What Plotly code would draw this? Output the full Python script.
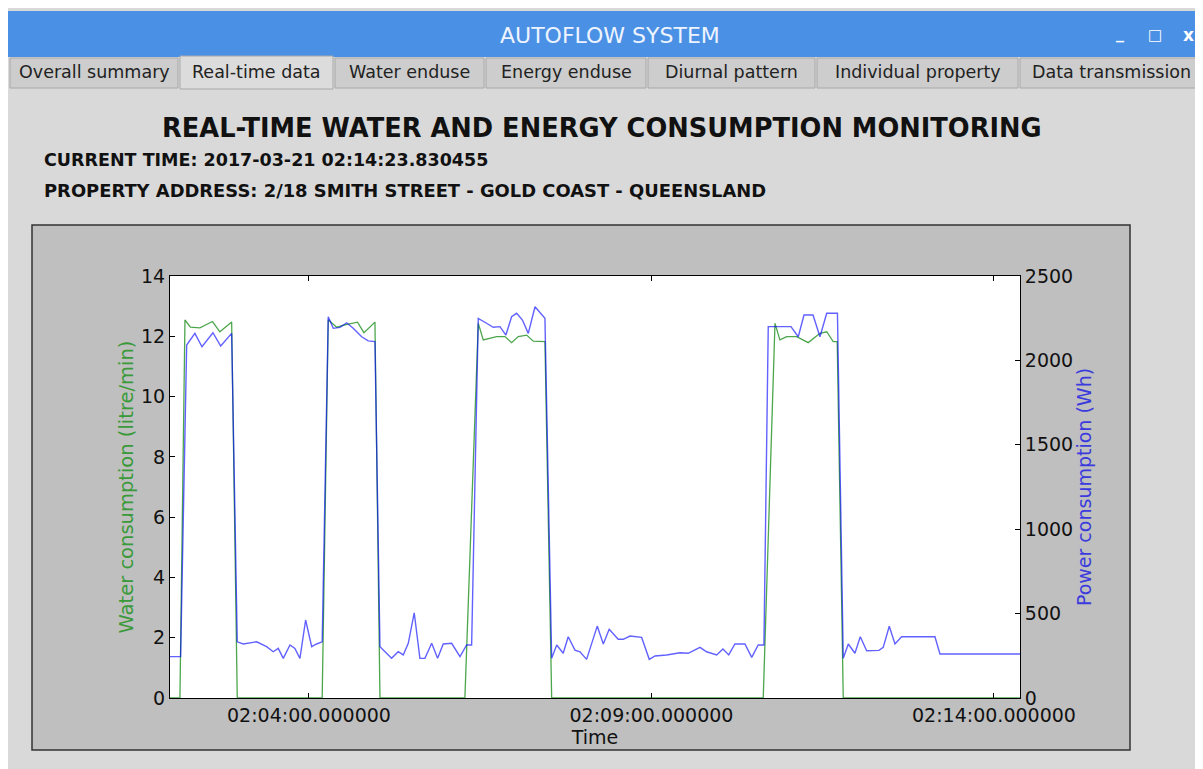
import plotly.graph_objects as go

DATE = "2017-03-21 "

# ---- data ----
power_time = [
    "02:01:58.3", "02:02:07.6", "02:02:12.9", "02:02:20.1", "02:02:26.3", "02:02:35.9", "02:02:42.7", "02:02:52.3",
    "02:02:57.2", "02:03:02.5", "02:03:14.2", "02:03:22.9", "02:03:28.7", "02:03:33.1", "02:03:37.5", "02:03:43.4",
    "02:03:47.7", "02:03:52.1", "02:03:57.1", "02:04:02.4", "02:04:06.7", "02:04:11.6", "02:04:16.9", "02:04:21.3",
    "02:04:27.2", "02:04:33.0", "02:04:38.8", "02:04:46.2", "02:04:51.9", "02:04:57.8", "02:05:02.2", "02:05:12.4",
    "02:05:18.2", "02:05:22.6", "02:05:27.0", "02:05:32.2", "02:05:37.2", "02:05:41.6", "02:05:47.5", "02:05:52.7",
    "02:05:57.6", "02:06:05.0", "02:06:12.3", "02:06:18.1", "02:06:22.5", "02:06:28.3", "02:06:35.6", "02:06:41.4",
    "02:06:47.3", "02:06:52.5", "02:06:57.5", "02:07:01.9", "02:07:07.0", "02:07:12.1", "02:07:18.0", "02:07:26.7",
    "02:07:32.6", "02:07:37.0", "02:07:42.7", "02:07:47.1", "02:07:53.0", "02:07:57.4", "02:08:03.2", "02:08:12.5",
    "02:08:17.8", "02:08:23.0", "02:08:30.9", "02:08:35.3", "02:08:41.2", "02:08:51.4", "02:08:58.1", "02:09:03.1",
    "02:09:13.3", "02:09:25.0", "02:09:32.2", "02:09:42.5", "02:09:48.3", "02:09:57.1", "02:10:02.6", "02:10:07.7",
    "02:10:13.1", "02:10:21.9", "02:10:27.8", "02:10:33.5", "02:10:38.5", "02:10:42.3", "02:11:02.2", "02:11:08.6",
    "02:11:13.6", "02:11:21.5", "02:11:27.6", "02:11:33.5", "02:11:42.9", "02:11:48.0", "02:11:52.4", "02:11:58.2",
    "02:12:02.9", "02:12:08.5", "02:12:19.3", "02:12:23.0", "02:12:28.3", "02:12:33.3", "02:12:39.1", "02:13:08.3",
    "02:13:12.7", "02:14:22.8",
]
power_wh = [
    245, 245, 2091, 2160, 2081, 2164, 2085, 2160,
    333, 320, 333, 304, 274, 294, 235, 314,
    294, 235, 462, 304, 320, 333, 2259, 2190,
    2196, 2223, 2190, 2140, 2116, 2111, 304, 235,
    274, 255, 324, 505, 235, 235, 324, 235,
    320, 324, 245, 314, 314, 2249, 2220, 2196,
    2200, 2150, 2259, 2279, 2239, 2160, 2318, 2249,
    235, 314, 265, 363, 284, 274, 229, 426,
    320, 407, 348, 348, 367, 359, 229, 249,
    255, 268, 265, 300, 274, 255, 290, 255,
    320, 320, 241, 314, 314, 2200, 2200, 2140,
    2269, 2269, 2140, 2279, 2279, 235, 320, 265,
    363, 280, 282, 300, 425, 320, 363, 363,
    261, 261,
]
water_time = [
    "02:01:58.3", "02:02:07.0", "02:02:11.4", "02:02:16.2", "02:02:24.5", "02:02:29.8", "02:02:35.5", "02:02:42.0",
    "02:02:52.3", "02:02:57.2", "02:04:11.6", "02:04:16.9", "02:04:24.3", "02:04:31.5", "02:04:42.5", "02:04:48.2",
    "02:04:57.8", "02:05:02.2", "02:06:16.6", "02:06:28.3", "02:06:32.7", "02:06:44.4", "02:06:51.7", "02:06:57.5",
    "02:07:03.3", "02:07:10.7", "02:07:16.5", "02:07:26.7", "02:07:32.6", "02:10:37.9", "02:10:48.2", "02:10:52.5",
    "02:10:58.4", "02:11:07.2", "02:11:17.3", "02:11:27.6", "02:11:33.5", "02:11:39.2", "02:11:42.7", "02:11:48.0",
    "02:14:22.8",
]
water_lpm = [
    0, 0, 12.54, 12.30, 12.28, 12.38, 12.49, 12.15,
    12.47, 0, 0, 12.55, 12.30, 12.38, 12.47, 12.12,
    12.47, 0, 0, 12.43, 11.88, 11.99, 11.99, 11.79,
    11.99, 12.04, 11.84, 11.82, 0, 0, 12.43, 11.88,
    11.99, 11.99, 11.79, 12.10, 12.15, 11.82, 11.82, 0,
    0,
]
assert len(power_time) == len(power_wh)
assert len(water_time) == len(water_lpm)

x_tick_times = ["02:04:00", "02:09:00", "02:14:00"]
x_tick_labels = ["02:04:00.000000", "02:09:00.000000", "02:14:00.000000"]
water_ticks = [0, 2, 4, 6, 8, 10, 12, 14]
power_ticks = [0, 500, 1000, 1500, 2000, 2500]

tab_labels = ["Overall summary", "Real-time data", "Water enduse", "Energy enduse",
              "Diurnal pattern", "Individual property", "Data transmission"]
active_tab = "Real-time data"

window_title = "AUTOFLOW SYSTEM"
page_title = "REAL-TIME WATER AND ENERGY CONSUMPTION MONITORING"
current_time_text = "CURRENT TIME: 2017-03-21 02:14:23.830455"
address_text = "PROPERTY ADDRESS: 2/18 SMITH STREET - GOLD COAST - QUEENSLAND"

# ---- layout geometry (page pixels; the page body has an 8px margin) ----
OFF = 8
W, H = 1203 - OFF, 769 - OFF
PL, PR, PT, PB = 170, 1020, 276, 698   # plot area on the page


def PX(x):
    return (x - PL) / (PR - PL)


def PY(y):
    return (PB - y) / (PB - PT)


FONT = "DejaVu Sans"
GREEN = "rgba(0,128,0,0.7)"
BLUE = "rgba(0,0,255,0.62)"

fig = go.Figure()
fig.add_trace(go.Scatter(
    x=[DATE + t for t in water_time], y=water_lpm, mode="lines",
    line=dict(color=GREEN, width=1.3), yaxis="y", showlegend=False,
))
fig.add_trace(go.Scatter(
    x=[DATE + t for t in power_time], y=power_wh, mode="lines",
    line=dict(color=BLUE, width=1.4), yaxis="y2", showlegend=False,
))

shapes = []


def rect(x0, y0, x1, y1, fill, line=None, lw=0):
    shapes.append(dict(type="rect", xref="paper", yref="paper",
                       x0=PX(x0), x1=PX(x1), y0=PY(y1), y1=PY(y0),
                       fillcolor=fill, line=dict(color=line or fill, width=lw),
                       layer="below"))


# title bar
rect(OFF, 11, 1210, 57, "#4a90e4")
# tabs
tab_edges = [10, 180, 335, 486, 648, 817, 1020, 1215]
for i, lab in enumerate(tab_labels):
    x0, x1 = tab_edges[i], tab_edges[i + 1] - 2
    if lab == active_tab:
        rect(x0, 56, x1, 89, "#dcdcdc", "#a8a8a8", 1)
    else:
        rect(x0, 58, x1, 88, "#cdcdcd", "#a8a8a8", 1)
# figure canvas box
rect(32, 225, 1130, 750, "#bfbfbf", "#333333", 1.5)
# plot area
rect(PL, PT, PR, PB, "#ffffff")

annotations = []


def text(x, y, s, size, color="#111111", bold=False, anchor="left", family=FONT):
    annotations.append(dict(
        xref="paper", yref="paper", x=PX(x), y=PY(y), text=("<b>%s</b>" % s) if bold else s,
        showarrow=False, xanchor=anchor, yanchor="middle",
        font=dict(family=family, size=size, color=color)))


text(610, 35, window_title, 22, color="#eef4ff", anchor="center")
text(1120, 33, "<b>_</b>", 16, color="#ffffff", anchor="center")
text(1155, 35, "□", 15, color="#ffffff", anchor="center")
text(1188, 35, "<b>x</b>", 17, color="#ffffff", anchor="center")
for i, lab in enumerate(tab_labels):
    text((tab_edges[i] + min(tab_edges[i + 1], 1205) - 2) / 2, 72, lab, 17.5, color="#222222", anchor="center")
text(602, 128, page_title, 25.7, bold=True, anchor="center")
text(42, 160, current_time_text, 17.5, bold=True)
text(42, 190, address_text, 17.9, bold=True)

tick_font = dict(family=FONT, size=19, color="#111111")
fig.update_layout(
    width=W, height=H, autosize=False,
    margin=dict(l=PL - OFF, r=1203 - PR, t=PT - OFF, b=769 - PB, pad=0),
    paper_bgcolor="#d9d9d9", plot_bgcolor="#ffffff",
    shapes=shapes, annotations=annotations, showlegend=False,
    xaxis=dict(
        type="date", range=[DATE + power_time[0], DATE + power_time[-1]],
        tickvals=[DATE + t for t in x_tick_times], ticktext=x_tick_labels,
        ticks="inside", ticklen=5, tickcolor="#000000", mirror="ticks",
        showline=True, linecolor="#000000", linewidth=1, showgrid=False, zeroline=False,
        tickfont=tick_font,
        title=dict(text="Time", font=dict(family=FONT, size=19, color="#111111"), standoff=2),
    ),
    yaxis=dict(
        range=[0, 14], tickvals=water_ticks, ticks="inside", ticklen=5, tickcolor="#000000",
        showline=True, linecolor="#000000", linewidth=1, showgrid=False, zeroline=False,
        tickfont=tick_font,
        title=dict(text="Water consumption (litre/min)",
                   font=dict(family=FONT, size=19.5, color="#3a9a3a"), standoff=2),
    ),
    yaxis2=dict(
        range=[0, 2500], tickvals=power_ticks, overlaying="y", side="right",
        ticks="inside", ticklen=5, tickcolor="#000000",
        showline=True, linecolor="#000000", linewidth=1, showgrid=False, zeroline=False,
        tickfont=tick_font,
        title=dict(text="Power consumption (Wh)",
                   font=dict(family=FONT, size=19, color="#3b3bdd"), standoff=1),
    ),
)

fig.write_html("out.html")
